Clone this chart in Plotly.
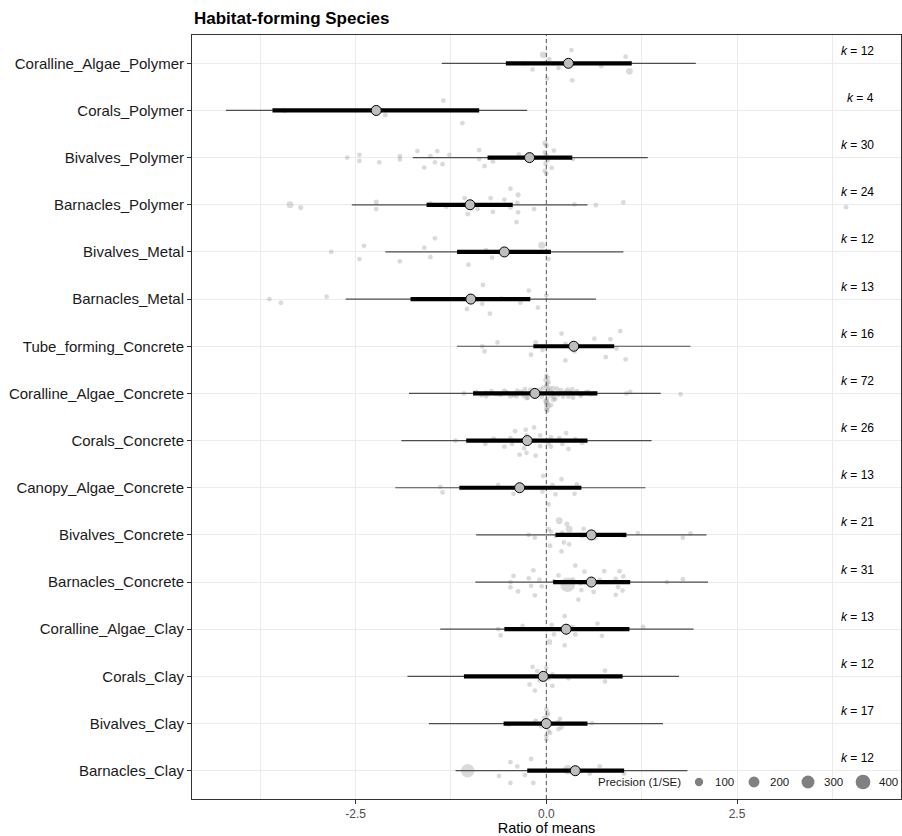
import plotly.graph_objects as go

# ---------------- data ----------------
groups = [
    "Coralline_Algae_Polymer", "Corals_Polymer", "Bivalves_Polymer", "Barnacles_Polymer",
    "Bivalves_Metal", "Barnacles_Metal", "Tube_forming_Concrete", "Coralline_Algae_Concrete",
    "Corals_Concrete", "Canopy_Algae_Concrete", "Bivalves_Concrete", "Barnacles_Concrete",
    "Coralline_Algae_Clay", "Corals_Clay", "Bivalves_Clay", "Barnacles_Clay",
]
k_counts = [12, 4, 30, 24, 12, 13, 16, 72, 26, 13, 21, 31, 13, 12, 17, 12]

est_mean = [0.29, -2.23, -0.22, -1.00, -0.55, -0.99, 0.36, -0.15, -0.25, -0.35, 0.59, 0.59, 0.26, -0.04, 0.00, 0.38]
ci_low   = [-0.53, -3.59, -0.77, -1.57, -1.17, -1.78, -0.17, -0.96, -1.05, -1.14, 0.12, 0.09, -0.55, -1.08, -0.56, -0.25]
ci_high  = [1.12, -0.88, 0.34, -0.44, 0.06, -0.21, 0.89, 0.67, 0.54, 0.46, 1.05, 1.10, 1.09, 1.00, 0.54, 1.02]
pi_low   = [-1.37, -4.20, -1.75, -2.55, -2.11, -2.63, -1.17, -1.80, -1.90, -1.98, -0.92, -0.93, -1.39, -1.82, -1.54, -1.19]
pi_high  = [1.96, -0.25, 1.33, 0.54, 1.01, 0.65, 1.89, 1.50, 1.38, 1.30, 2.10, 2.12, 1.93, 1.74, 1.53, 1.85]

# individual effect sizes (log ratio of means), one list per group
effect_ratio = [
    [-0.28, -0.18, -0.04, 0.04, 0.01, 0.16, 0.33, 0.34, 0.72, 1.04, 1.09, 0.29],
    [-3.43, -2.11, -1.35, -1.10],
    [-2.61, -2.45, -2.45, -2.19, -1.92, -1.92, -1.69, -1.60, -1.52, -1.46, -1.43, -1.36, -1.27, -0.88, -0.88,
     -0.81, -0.70, -0.36, -0.02, 0.00, -0.02, 0.00, -0.01, -0.02, 0.00, 0.07, 0.10, 0.35, -0.22, 0.02],
    [-3.36, -3.22, -2.23, -2.23, -1.52, -1.31, -1.07, -1.03, -0.90, -0.73, -0.70, -0.55,
     -0.47, -0.37, -0.38, -0.47, -0.37, -0.39, -0.16, 0.37, 0.65, 1.01, 3.93, -1.00],
    [-2.82, -2.45, -2.39, -1.92, -1.60, -1.52, -1.46, -1.02, -0.79, -0.71, -0.06, 0.03],
    [-3.63, -3.48, -2.88, -0.83, -0.84, -1.04, -0.74, -0.59, -0.34, -0.23, -0.11, 0.00, -0.99],
    [0.20, 0.97, -0.64, -0.84, -0.81, -0.14, -0.05, -0.20, 0.25, 0.37, 0.25, 0.63, 0.84, 0.92, 0.78, 1.04],
    [-1.08, -0.79, -0.79, -0.66, -0.52, -0.47, -0.38, -0.39, -0.28, -0.24, -0.18, -0.21,
     0.09, 0.10, 0.19, 0.22, 0.28, 0.29, 0.34, 0.35, 0.46, 0.63, 1.05, 1.10,
     1.76, -0.26, 0.00, 0.01, 0.06, 0.09, 0.00, 0.02, -0.01, 0.03, 0.01, 0.00,
     0.04, 0.01, -0.01, 0.02, 0.00, 0.03, 0.00, 0.01, -0.92, -0.85, -0.72, -0.60,
     -0.55, -0.43, -0.33, -0.30, -0.15, -0.12, -0.08, -0.06, -0.04, 0.05, 0.06, 0.08,
     0.12, 0.14, 0.16, 0.25, 0.31, 0.40, 0.45, 0.55, 0.58, 0.52, -0.15, 0.02],
    [-1.19, -0.80, -0.69, -0.55, -0.47, -0.45, -0.41, -0.35, -0.27, -0.26, -0.29, -0.26, -0.16,
     -0.14, -0.08, -0.08, 0.06, 0.06, 0.17, 0.21, 0.26, 0.29, 0.38, 0.47, 0.03, -0.25],
    [-1.39, -1.36, -0.63, -0.43, -0.04, -0.05, 0.08, 0.12, 0.20, 0.03, 0.37, 0.40, -0.35],
    [-0.23, -0.15, 0.03, 0.06, 0.17, 0.27, 0.30, 0.21, 0.49, 0.47, 0.64, 0.05, 0.23, 0.30, 0.20,
     1.02, 1.20, 1.79, 1.89, 0.59, 0.12],
    [0.28, -0.43, -0.47, -0.47, -0.37, -0.23, -0.17, -0.20, -0.15, -0.09, -0.06, 0.16, 0.38, 0.50, 0.46,
     0.62, 0.42, 0.76, 0.96, 1.01, 0.91, 0.94, 1.00, 0.91, 1.58, 1.79, 0.59, 0.35, 0.45, 0.10, 0.70],
    [-0.63, -0.60, -0.31, 0.07, 0.10, 0.04, 0.24, 0.24, 0.34, 0.38, 0.67, 0.73, 1.27],
    [-0.18, -0.12, 0.00, 0.08, -0.22, -0.15, 0.08, -0.09, 0.29, 0.77, 0.77, 0.03],
    [-0.49, 0.00, 0.01, -0.14, -0.07, 0.03, 0.18, 0.20, 0.60, 0.00, 0.02, 0.15, 0.16, 0.05, -0.05, 0.00, -0.03],
    [-1.03, -0.47, -0.38, -0.20, -0.62, -0.47, -0.28, -0.17, 0.28, 0.57, 0.70, 1.02],
]

# precision (1/SE) of each effect size
effect_precision = [
    [20, 20, 55, 20, 20, 20, 20, 20, 20, 20, 55, 20],
    [25, 20, 20, 20],
    [20, 20, 20, 20, 20, 20, 20, 20, 20, 20, 20, 20, 20, 20, 20,
     20, 20, 20, 25, 25, 20, 20, 20, 20, 20, 20, 20, 20, 20, 20],
    [60, 25, 25, 20, 20, 20, 20, 20, 20, 20, 20, 20,
     20, 25, 20, 20, 20, 20, 20, 20, 20, 20, 20, 20],
    [20, 20, 20, 20, 20, 20, 20, 20, 20, 20, 65, 20],
    [20, 20, 20, 20, 20, 20, 20, 20, 20, 20, 20, 20, 20],
    [20, 20, 20, 20, 20, 20, 20, 20, 20, 20, 20, 20, 20, 20, 20, 20],
    [20, 20, 20, 20, 20, 20, 20, 20, 20, 20, 20, 20,
     20, 20, 20, 20, 20, 20, 20, 20, 20, 20, 20, 20,
     20, 20, 25, 20, 20, 20, 20, 20, 20, 20, 20, 20,
     20, 20, 20, 20, 20, 20, 20, 20, 20, 20, 20, 20,
     20, 20, 20, 20, 20, 20, 20, 20, 20, 20, 20, 20,
     20, 20, 20, 20, 20, 20, 20, 20, 20, 20, 20, 20],
    [20, 20, 20, 20, 20, 20, 20, 20, 20, 20, 20, 20, 20,
     20, 20, 20, 20, 20, 20, 20, 20, 20, 20, 20, 20, 20],
    [20, 20, 20, 20, 20, 20, 20, 20, 20, 20, 20, 20, 20],
    [20, 20, 20, 20, 60, 25, 60, 20, 20, 20, 20, 20, 20, 20, 20,
     20, 20, 20, 20, 20, 20],
    [400, 20, 20, 20, 20, 20, 20, 20, 20, 20, 20, 20, 20, 20, 20,
     20, 20, 20, 20, 20, 20, 20, 20, 20, 20, 20, 20, 20, 20, 20, 20],
    [20, 20, 20, 20, 20, 35, 20, 20, 20, 20, 20, 20, 20],
    [20, 20, 20, 20, 20, 20, 20, 20, 20, 20, 20, 20],
    [20, 20, 20, 20, 20, 20, 20, 20, 20, 20, 20, 20, 20, 20, 20, 20, 20],
    [330, 20, 20, 20, 20, 20, 20, 20, 140, 20, 20, 20],
]

legend_precision = [100, 200, 300, 400]

# ---------------- presentation: vertical jitter (row units) ----------------
jitter_offset = [
    [0.0, -0.13, 0.18, 0.09, -0.32, -0.10, 0.28, -0.36, -0.06, 0.14, -0.17, 0.0],
    [0.0, -0.10, 0.21, -0.27],
    [0, 0.06, -0.07, -0.10, 0.03, -0.04, 0.14, -0.21, 0.03, -0.10, 0.14, -0.14, 0.06, 0.16, -0.03,
     -0.18, -0.08, 0.07, 0.31, 0.26, 0.11, 0.05, -0.13, -0.28, -0.34, -0.22, 0.15, -0.03, 0, -0.05],
    [0, -0.06, 0.06, -0.09, 0.03, -0.04, 0.14, -0.20, -0.09, 0.14, -0.15, 0.11,
     0.34, 0.21, 0.04, -0.06, -0.16, -0.37, -0.09, 0.01, -0.01, 0.05, -0.05, 0],
    [0, -0.15, 0.13, -0.20, 0.09, -0.11, 0.29, -0.27, 0.04, -0.12, 0.14, -0.15],
    [0, -0.08, 0.05, 0.30, -0.10, -0.21, -0.31, 0.01, -0.08, 0.18, -0.18, 0.08, 0],
    [0.27, 0.32, 0.08, 0, -0.11, 0.08, -0.08, -0.18, 0.05, -0.11, -0.30, 0.16, 0.15, -0.05, -0.23, -0.28],
    [0, 0.01, -0.06, -0.01, 0.02, -0.06, 0.06, -0.06, 0.09, -0.09, -0.01, 0.08,
     0.11, -0.08, 0.07, -0.07, 0.08, -0.07, 0.09, -0.09, -0.01, 0, 0, 0.03,
     -0.02, -0.10, -0.18, -0.35, -0.25, -0.14, 0.37, 0.33, 0.28, 0.24, 0.20, 0.16,
     0.12, -0.12, -0.16, -0.20, -0.24, -0.28, -0.32, -0.37, 0.03, -0.04, 0.05, -0.03,
     0.06, -0.04, 0.03, -0.05, 0.04, -0.04, 0.08, -0.07, 0.12, 0.05, -0.05, 0.02,
     -0.12, 0.10, -0.03, 0.03, 0.02, 0.05, -0.05, 0.03, -0.02, 0.02, 0, 0.08],
    [0, -0.07, 0.04, -0.13, 0.05, -0.07, 0.20, -0.30, 0.23, 0.11, -0.16, -0.26, 0.28,
     -0.32, -0.12, 0.11, 0.07, -0.13, 0.05, -0.07, 0.16, -0.18, 0.03, -0.05, -0.06, 0],
    [0.02, -0.10, 0.06, -0.13, 0.25, -0.08, 0.06, -0.14, 0.18, -0.35, -0.13, 0.07, 0],
    [0, -0.06, 0.12, 0.07, 0.30, 0.23, 0.12, 0.05, 0.13, -0.02, -0.07, -0.23, -0.16, -0.20, -0.35,
     -0.02, 0.04, -0.06, 0.03, 0, -0.02],
    [-0.06, 0.13, 0, -0.11, -0.20, 0.08, 0.25, -0.08, -0.28, 0.05, -0.09, 0.14, 0.35, 0.22, -0.17,
     -0.21, -0.37, 0.23, 0.23, 0.12, 0.07, -0.11, -0.18, -0.27, 0, 0.06, 0, 0.05, -0.03, 0.02, 0.05],
    [0, -0.13, 0.07, 0.09, -0.11, -0.27, 0.28, -0.34, 0.05, -0.11, 0.12, -0.14, 0.05],
    [0.20, 0.11, 0.18, 0.04, -0.17, -0.30, -0.20, -0.08, -0.04, 0.12, -0.11, -0.04],
    [-0.02, 0.30, 0.17, 0.06, -0.06, -0.16, 0.10, -0.08, 0.01, -0.34, 0.22, 0.03, -0.12, -0.20, 0.02, -0.26, 0.12],
    [0, 0.18, 0.09, 0.25, -0.11, -0.26, -0.09, -0.26, 0.02, -0.06, 0.09, -0.06],
]

for i in range(len(groups)):
    assert len(effect_ratio[i]) == k_counts[i], (groups[i], len(effect_ratio[i]))
    assert len(effect_precision[i]) == k_counts[i], (groups[i], "prec")
    assert len(jitter_offset[i]) == k_counts[i], (groups[i], "jit")

# ---------------- figure geometry ----------------
FONT = "Liberation Sans, Arial, Helvetica, sans-serif"
W, H = 902, 836
ML, MT = 192, 35          # panel left / top
PR, PB = 901, 799         # panel right / bottom
MR, MB = W - PR, H - PB
PW, PH = PR - ML, PB - MT

n = len(groups)
row_pos = [n - i for i in range(n)]          # top group at the top


def point_diam(p):
    return 1.9 + 0.64 * p ** 0.5


def px_x(px):          # window pixel -> paper x
    return (px - ML) / PW


def px_y(py):          # window pixel -> paper y
    return (PB - py) / PH


pts_x, pts_y, pts_s = [], [], []
for i in range(n):
    for v, j, p in zip(effect_ratio[i], jitter_offset[i], effect_precision[i]):
        pts_x.append(v)
        pts_y.append(row_pos[i] + j)
        pts_s.append(point_diam(p))

fig = go.Figure()

fig.add_trace(go.Scatter(
    x=pts_x, y=pts_y, mode="markers",
    marker=dict(size=pts_s, color="rgba(150,150,150,0.5)", line=dict(width=0)),
    showlegend=False, hoverinfo="x",
))

# reference line at zero
fig.add_trace(go.Scatter(
    x=[0, 0], y=[0.4, n + 0.6], mode="lines",
    line=dict(color="#555555", width=1, dash="4px,3px"),
    showlegend=False, hoverinfo="skip",
))

pi_x, pi_y, ci_x, ci_y = [], [], [], []
for i in range(n):
    pi_x += [pi_low[i], pi_high[i], None]
    pi_y += [row_pos[i], row_pos[i], None]
    ci_x += [ci_low[i], ci_high[i], None]
    ci_y += [row_pos[i], row_pos[i], None]

fig.add_trace(go.Scatter(x=pi_x, y=pi_y, mode="lines",
                         line=dict(color="#4d4d4d", width=1.2),
                         showlegend=False, hoverinfo="skip"))
fig.add_trace(go.Scatter(x=ci_x, y=ci_y, mode="lines",
                         line=dict(color="#000000", width=4.2),
                         showlegend=False, hoverinfo="skip"))
fig.add_trace(go.Scatter(x=est_mean, y=row_pos, mode="markers",
                         marker=dict(size=10, color="#bebebe", line=dict(color="#000000", width=1)),
                         showlegend=False, hoverinfo="x"))

annotations = []
# k labels
for i in range(n):
    annotations.append(dict(
        x=4.32, y=row_pos[i] + 0.265, xref="x", yref="y",
        text="<i>k</i> = %d" % k_counts[i], showarrow=False,
        xanchor="right", yanchor="middle",
        font=dict(family=FONT, size=12, color="#000000"),
    ))

# title
annotations.append(dict(
    x=px_x(192), y=px_y(19), xref="paper", yref="paper",
    text="<b>Habitat-forming Species</b>", showarrow=False,
    xanchor="left", yanchor="middle",
    font=dict(family=FONT, size=17, color="#000000"),
))

# size legend (drawn manually inside the panel)
shapes = []
key_cx = [699, 754, 808, 863]
key_box = [23, 23, 26, 30]
lab_x = [713, 768, 822, 877]
leg_y = 782
annotations.append(dict(
    x=px_x(683), y=px_y(leg_y), xref="paper", yref="paper",
    text="Precision (1/SE)", showarrow=False, xanchor="right", yanchor="middle",
    font=dict(family=FONT, size=11.5, color="#1a1a1a"),
))
for cx, bx, lx, p in zip(key_cx, key_box, lab_x, legend_precision):
    shapes.append(dict(type="rect", xref="paper", yref="paper", layer="below",
                       x0=px_x(cx - bx / 2), x1=px_x(cx + bx / 2),
                       y0=px_y(leg_y + bx / 2), y1=px_y(leg_y - bx / 2),
                       fillcolor="white", line=dict(width=0)))
    d = point_diam(p)
    shapes.append(dict(type="circle", xref="paper", yref="paper", layer="above",
                       x0=px_x(cx - d / 2), x1=px_x(cx + d / 2),
                       y0=px_y(leg_y + d / 2), y1=px_y(leg_y - d / 2),
                       fillcolor="#808080", line=dict(width=0)))
    annotations.append(dict(
        x=px_x(lx), y=px_y(leg_y), xref="paper", yref="paper",
        text=str(p), showarrow=False, xanchor="left", yanchor="middle",
        font=dict(family=FONT, size=11.5, color="#1a1a1a"),
    ))

fig.update_layout(
    width=W, height=H,
    margin=dict(l=ML, r=MR, t=MT, b=MB, pad=0),
    paper_bgcolor="white", plot_bgcolor="white",
    font=dict(family=FONT, color="#000000"),
    showlegend=False,
    annotations=annotations, shapes=shapes,
    xaxis=dict(
        range=[-4.645, 4.65], tickvals=[-2.5, 0, 2.5], ticktext=["-2.5", "0.0", "2.5"],
        ticks="outside", ticklen=4, tickcolor="#333333", tickwidth=1,
        tickfont=dict(family=FONT, size=12, color="#4d4d4d"),
        showgrid=True, gridcolor="#ebebeb", gridwidth=1,
        minor=dict(tickvals=[-3.75, -1.25, 1.25, 3.75], showgrid=True,
                   gridcolor="#ebebeb", gridwidth=0.6, ticks=""),
        zeroline=False, showline=True, linecolor="#333333", linewidth=1, mirror=True,
        title=dict(text="Ratio of means", font=dict(family=FONT, size=14.5, color="#000000"), standoff=0),
        automargin=False,
    ),
    yaxis=dict(
        range=[0.4, n + 0.6], tickvals=row_pos, ticktext=groups,
        ticks="outside", ticklen=4, tickcolor="#333333", tickwidth=1,
        tickfont=dict(family=FONT, size=15, color="#1a1a1a"),
        showgrid=True, gridcolor="#ebebeb", gridwidth=1,
        zeroline=False, showline=True, linecolor="#333333", linewidth=1, mirror=True,
        automargin=False,
    ),
)

fig.write_html(
    "out.html",
    config={"displayModeBar": False},
    post_script="document.body.style.margin='0';document.body.style.overflow='hidden';",
)
